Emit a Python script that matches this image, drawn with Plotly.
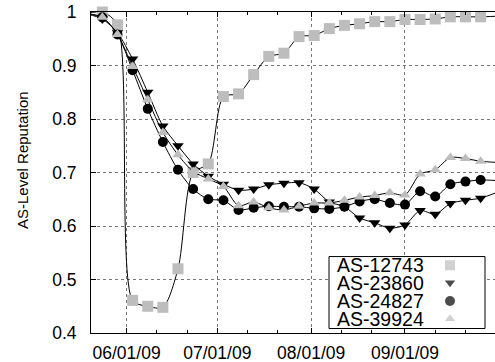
import plotly.graph_objects as go

# ---------------- data ----------------
dates = [
    "2009-05-19", "2009-05-24", "2009-05-29", "2009-06-03", "2009-06-08",
    "2009-06-13", "2009-06-18", "2009-06-23", "2009-06-28", "2009-07-03",
    "2009-07-08", "2009-07-13", "2009-07-18", "2009-07-23", "2009-07-28",
    "2009-08-02", "2009-08-07", "2009-08-12", "2009-08-17", "2009-08-22",
    "2009-08-27", "2009-09-01", "2009-09-06", "2009-09-11", "2009-09-16",
    "2009-09-21", "2009-09-26", "2009-10-01",
]

as_12743 = [0.997, 1.000, 0.976, 0.461, 0.450, 0.448, 0.520, 0.700, 0.716, 0.842,
            0.847, 0.883, 0.917, 0.923, 0.954, 0.956, 0.969, 0.975, 0.978, 0.982,
            0.982, 0.986, 0.986, 0.987, 0.991, 0.991, 0.991, 0.992]
as_23860 = [0.996, 0.987, 0.961, 0.912, 0.850, 0.787, 0.750, 0.716, 0.693, 0.678,
            0.667, 0.669, 0.677, 0.680, 0.681, 0.669, 0.645, 0.636, 0.615, 0.606,
            0.596, 0.602, 0.629, 0.622, 0.642, 0.648, 0.652, 0.662]
as_24827 = [0.996, 0.990, 0.958, 0.891, 0.819, 0.757, 0.705, 0.669, 0.650, 0.648,
            0.630, 0.634, 0.637, 0.636, 0.636, 0.633, 0.632, 0.636, 0.646, 0.650,
            0.643, 0.640, 0.665, 0.655, 0.678, 0.683, 0.686, 0.685]
as_39924 = [0.997, 0.990, 0.958, 0.898, 0.836, 0.775, 0.733, 0.702, 0.688, 0.674,
            0.638, 0.645, 0.634, 0.630, 0.637, 0.643, 0.643, 0.648, 0.654, 0.657,
            0.662, 0.658, 0.697, 0.705, 0.728, 0.726, 0.721, 0.719]

series_names = ["AS-12743", "AS-23860", "AS-24827", "AS-39924"]
series_values = [as_12743, as_23860, as_24827, as_39924]

x_tick_dates = ["2009-06-01", "2009-07-01", "2009-08-01", "2009-09-01"]
x_tick_labels = ["06/01/09", "07/01/09", "08/01/09", "09/01/09"]
x_minor_dates = ["2009-06-11", "2009-06-21", "2009-07-11", "2009-07-21",
                 "2009-08-11", "2009-08-21", "2009-09-11", "2009-09-21"]
y_ticks = [0.4, 0.5, 0.6, 0.7, 0.8, 0.9, 1.0]

# ---------------- styles ----------------
GRAY = "#bdbdbd"
symbols = ["square", "triangle-down", "circle", "triangle-up"]
colors = [GRAY, "black", "black", GRAY]
sizes = [11, 10, 10, 10]
FONT = "Liberation Sans, Arial, Helvetica, sans-serif"

fig = go.Figure()
for name, vals, sym, col, sz in zip(series_names, series_values, symbols, colors, sizes):
    fig.add_trace(go.Scatter(
        x=dates, y=vals, mode="lines",
        line=dict(color="black", width=1, shape="spline", smoothing=0.8),
        hoverinfo="skip", showlegend=False,
    ))
    fig.add_trace(go.Scatter(
        x=dates[1:-1], y=vals[1:-1], mode="markers", name=name,
        marker=dict(symbol=sym, color=col, size=sz, line=dict(width=0)),
        cliponaxis=False, showlegend=False,
    ))

# ---------------- custom legend (pixel-space overlay axes) ----------------
box_x = [329, 485, 485, 329, 329]
box_y = [257, 257, 329, 329, 257]
fig.add_trace(go.Scatter(
    x=box_x, y=box_y, mode="lines", fill="toself", fillcolor="white",
    line=dict(color="black", width=1), xaxis="x2", yaxis="y2",
    showlegend=False, hoverinfo="skip", cliponaxis=False,
))
legend_rows = [265.7, 283.3, 301.5, 319.3]
fig.add_trace(go.Scatter(
    x=[450] * 4, y=legend_rows, mode="markers",
    marker=dict(symbol=symbols, color=colors, size=[10, 9, 10, 9], line=dict(width=0)),
    xaxis="x2", yaxis="y2", cliponaxis=False, showlegend=False, hoverinfo="skip",
))
for name, yy in zip(series_names, legend_rows):
    fig.add_annotation(x=335, y=yy, xref="x2", yref="y2", text=name, showarrow=False,
                       xanchor="left", yanchor="middle",
                       font=dict(family=FONT, size=19.5, color="black"))

# y-axis title
fig.add_annotation(x=-0.17, y=0.54, xref="paper", yref="paper", text="AS-Level Reputation",
                   textangle=-90, showarrow=False, xanchor="center", yanchor="middle",
                   font=dict(family=FONT, size=15, color="black"))

fig.update_layout(
    width=495, height=362,
    margin=dict(l=91, r=0, t=12, b=29, pad=0, autoexpand=False),
    plot_bgcolor="white", paper_bgcolor="white",
    showlegend=False,
    font=dict(family=FONT, size=17.5, color="black"),
    xaxis=dict(
        type="date", range=["2009-05-20 06:00", "2009-09-30 18:00"],
        tickvals=x_tick_dates, ticktext=x_tick_labels,
        ticks="inside", ticklen=5, tickcolor="black", tickwidth=1,
        showline=True, linecolor="black", linewidth=1, mirror="ticks",
        showgrid=True, gridcolor="#777777", griddash="dot", gridwidth=1,
        zeroline=False, automargin=False, ticklabelstandoff=4,
        ticklabeloverflow="allow",
        tickfont=dict(family=FONT, size=17.5, color="black"),
        minor=dict(tickvals=x_minor_dates, ticks="inside", ticklen=3,
                   tickcolor="black", showgrid=False),
    ),
    yaxis=dict(
        range=[0.4, 1.0], tickvals=y_ticks,
        ticks="inside", ticklen=5, tickcolor="black", tickwidth=1,
        showline=True, linecolor="black", linewidth=1, mirror=False,
        showgrid=True, gridcolor="#777777", griddash="dot", gridwidth=1,
        zeroline=False, ticklabelstandoff=10, automargin=False,
        ticklabeloverflow="allow",
        tickfont=dict(family=FONT, size=17.5, color="black"),
    ),
    xaxis2=dict(overlaying="x", range=[91, 495], visible=False, fixedrange=True),
    yaxis2=dict(overlaying="y", range=[333.5, 12.3], visible=False, fixedrange=True),
)

# remove the browser's default 8px body margin so the figure fills the window
fig.write_html(
    "out.html",
    config={"displayModeBar": False, "staticPlot": True},
    post_script="document.body.style.margin='0px';document.body.style.overflow='hidden';",
)
